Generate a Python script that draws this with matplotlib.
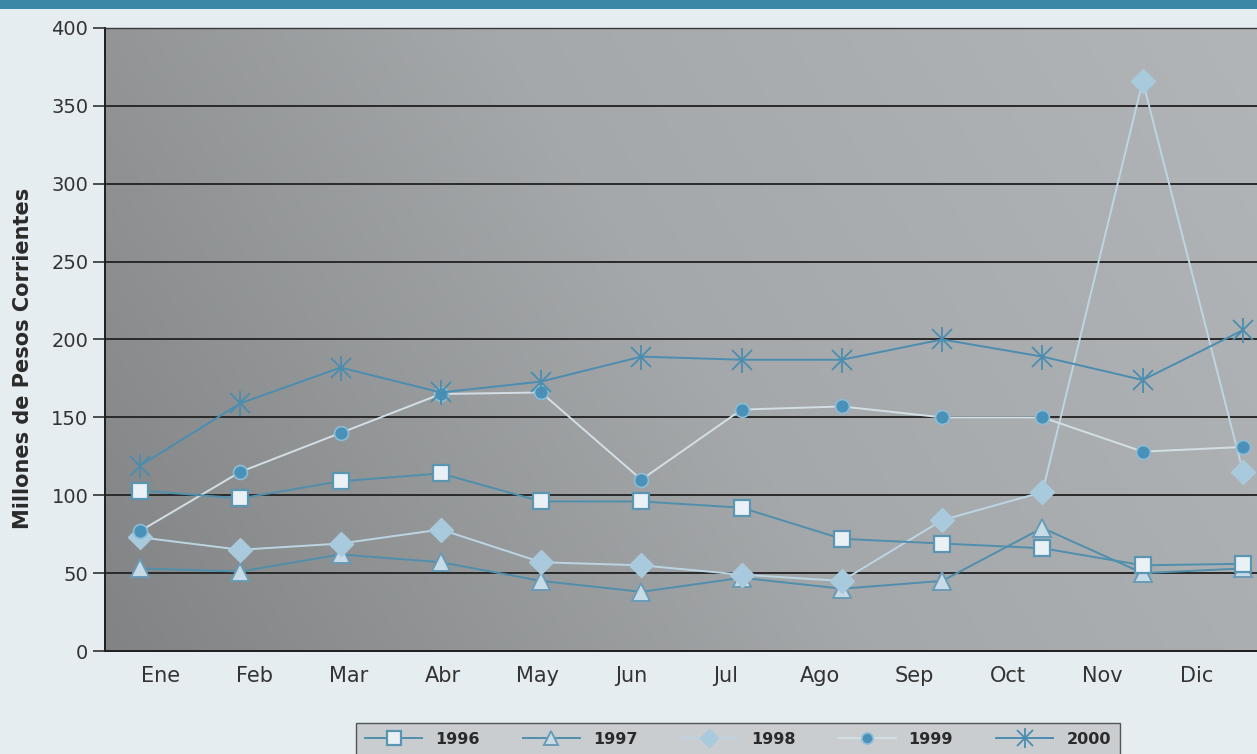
import numpy as np
import matplotlib
matplotlib.use('Agg')
from matplotlib import pyplot as plt
from matplotlib.colors import LinearSegmentedColormap
from matplotlib.legend_handler import HandlerTuple
from matplotlib.patches import Rectangle

# Monthly values (millones de pesos corrientes)
months = ['Ene', 'Feb', 'Mar', 'Abr', 'May', 'Jun',
          'Jul', 'Ago', 'Sep', 'Oct', 'Nov', 'Dic']
y1996 = [103, 98, 109, 114, 96, 96, 92, 72, 69, 66, 55, 56]
y1997 = [53, 51, 62, 57, 45, 38, 47, 40, 45, 79, 50, 53]
y1998 = [73, 65, 69, 78, 57, 55, 49, 45, 84, 102, 366, 115]
y1999 = [77, 115, 140, 165, 166, 110, 155, 157, 150, 150, 128, 131]
y2000 = [119, 159, 182, 166, 173, 189, 187, 187, 200, 189, 174, 206]

y_ticks = [0, 50, 100, 150, 200, 250, 300, 350, 400]

fig = plt.figure(figsize=(12.57, 7.54), dpi=100)
fig.patch.set_facecolor('#e5edf1')
# teal band on top of the page
fig.patches.append(Rectangle((0, 0.988), 1, 0.012, transform=fig.transFigure,
                             facecolor='#3c87a5', edgecolor='none'))

ax = fig.add_axes([0.0835, 0.1366, 0.9165, 0.8263])

# gradient gray plot area
grad = np.linspace(0, 1, 256)
gx, gy = np.meshgrid(grad, grad)
shade = 0.75 * gx + 0.25 * gy
cmap = LinearSegmentedColormap.from_list('bg', ['#818384', '#a5a8aa', '#b2b5b7'])
ax.imshow(shade, cmap=cmap, extent=[0, 1, 0, 1], transform=ax.transAxes,
          aspect='auto', origin='lower', zorder=0)

x = np.arange(len(months))

for yv in y_ticks[1:]:
    ax.axhline(yv, color='#2a2a2a', lw=1.4, zorder=1)

l96, = ax.plot(x, y1996, color='#4f8fac', lw=1.4, marker='s', markersize=12,
               markerfacecolor='#eaf1f5', markeredgecolor='#5a95b2',
               markeredgewidth=1.6, zorder=4)
l97, = ax.plot(x, y1997, color='#4f8fac', lw=1.4, marker='^', markersize=13,
               markerfacecolor='#c6dbe6', markeredgecolor='#6a9bb6',
               markeredgewidth=1.4, zorder=3)
l98, = ax.plot(x, y1998, color='#bcd5e3', lw=1.4, marker='D', markersize=12,
               markerfacecolor='#a9c9dc', markeredgecolor='#a9c9dc', zorder=3)
l99, = ax.plot(x, y1999, color='#d3dfe5', lw=1.4, marker='o', markersize=10,
               markerfacecolor='#4a91b9', markeredgecolor='#8dbdd6',
               markeredgewidth=1.2, zorder=3)
l00, = ax.plot(x, y2000, color='#4b8db0', lw=1.4, marker='x', markersize=14,
               markeredgewidth=1.3, markeredgecolor='#4b8db0', zorder=5)
l00b, = ax.plot(x, y2000, linestyle='none', marker='|', markersize=18,
                markeredgewidth=1.3, markeredgecolor='#4b8db0', zorder=5)

ax.set_xlim(-0.35, 11.14)
ax.set_ylim(0, 400)
ax.set_yticks(y_ticks)
ax.tick_params(axis='y', direction='out', length=9, width=1.2,
               colors='#333333', labelsize=14, pad=3)
ax.set_xticks(0.2 + 0.94 * x)
ax.set_xticklabels(months)
ax.tick_params(axis='x', length=0, colors='#333333', labelsize=15, pad=11)

for side in ['left', 'bottom']:
    ax.spines[side].set_color('#1e1e1e')
    ax.spines[side].set_linewidth(1.4)
ax.spines['top'].set_color('#3a3a3a')
ax.spines['top'].set_linewidth(1.0)
ax.spines['right'].set_visible(False)

fig.text(0.0185, 0.525, 'Millones de Pesos Corrientes',
         rotation=90, ha='center', va='center', fontsize=15,
         fontweight='bold', color='#2a2a2a')

leg = fig.legend([l96, l97, l98, l99, (l00, l00b)],
                 ['1996', '1997', '1998', '1999', '2000'],
                 handler_map={tuple: HandlerTuple(ndivide=1)},
                 loc='upper left', bbox_to_anchor=(0.277, 0.052, 0.62, 0.0),
                 mode='expand', ncol=5, frameon=True, fancybox=False,
                 handlelength=3.6, markerscale=0.8, borderpad=0.55,
                 prop={'weight': 'bold', 'size': 11.5}, labelcolor='#2a2a2a')
leg.get_frame().set_facecolor('#c9cdcf')
leg.get_frame().set_edgecolor('#555555')
leg.get_frame().set_linewidth(1.0)
leg.get_frame().set_alpha(1.0)

fig.savefig('out.png', dpi=100, facecolor=fig.get_facecolor())
